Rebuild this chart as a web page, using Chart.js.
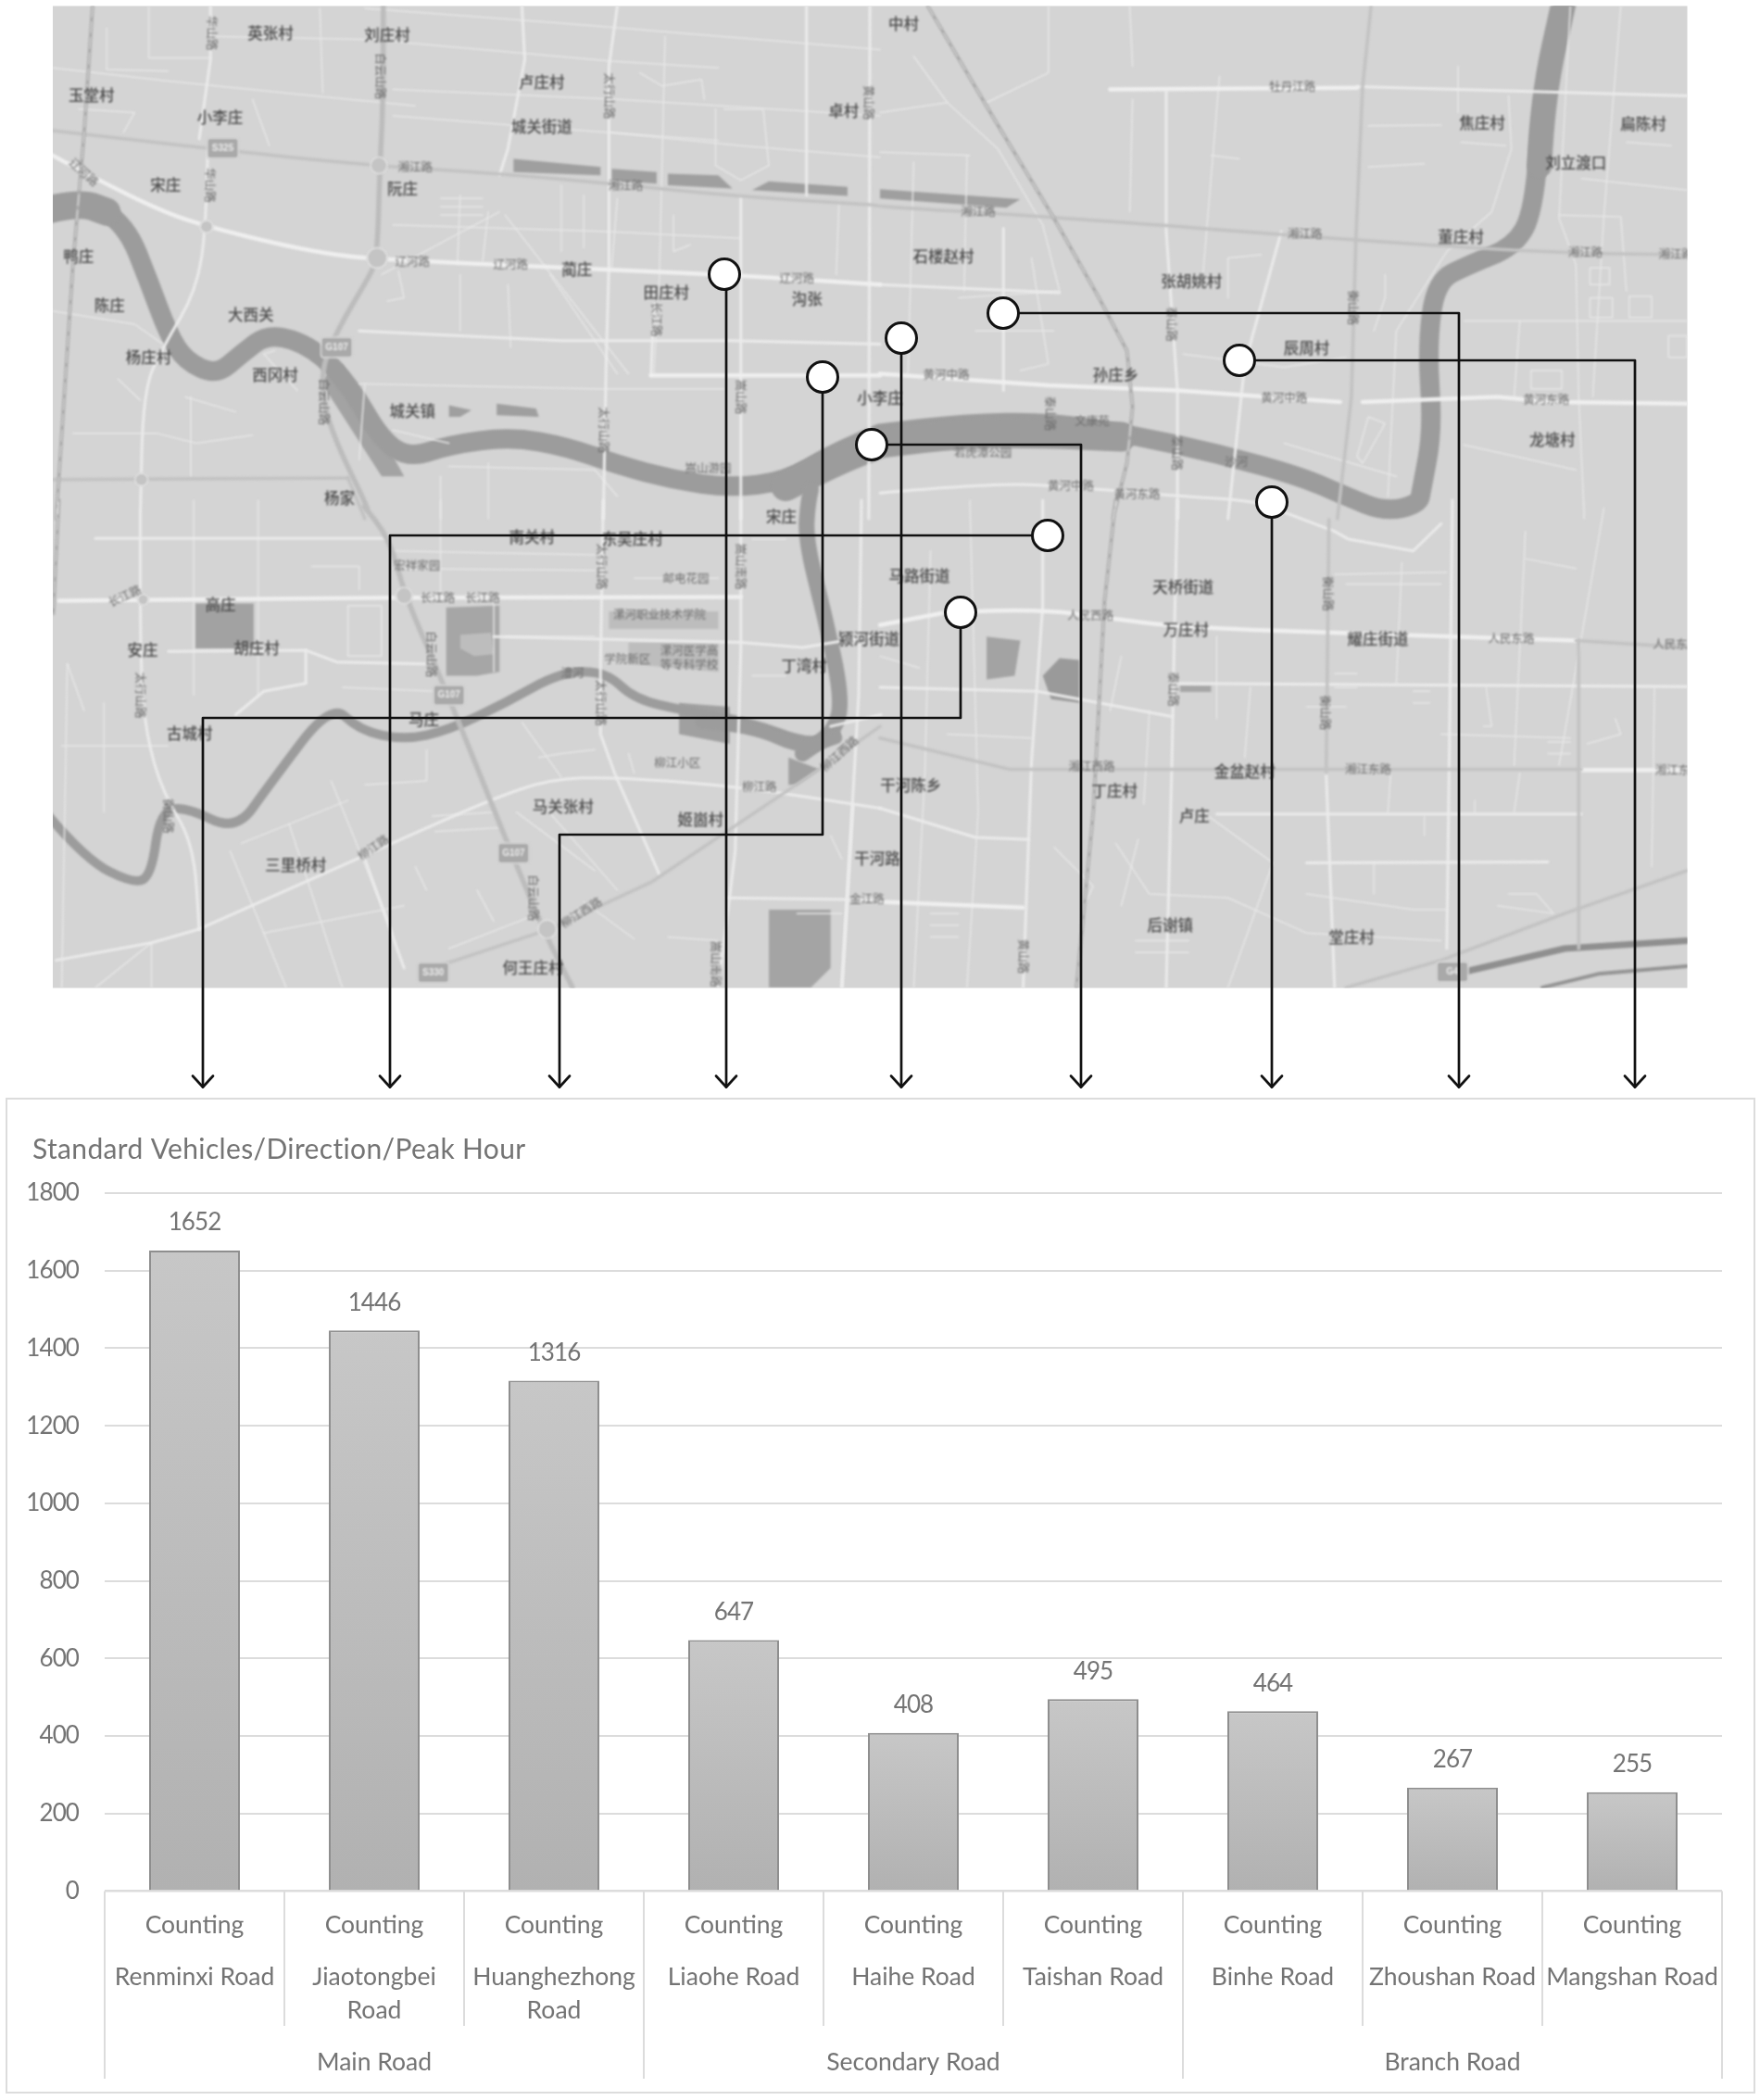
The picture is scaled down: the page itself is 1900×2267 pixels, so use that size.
<!DOCTYPE html>
<html><head><meta charset="utf-8">
<style>html,body{margin:0;padding:0;background:#fff}canvas{display:block}</style>
<script src="https://cdn.jsdelivr.net/npm/chart.js@4"></script>
</head><body><canvas id="c" width="1900" height="2267"></canvas>
<script>
const counting=['Counting','Counting','Counting','Counting','Counting','Counting','Counting','Counting','Counting'];
const roadNames=['Renminxi Road',['Jiaotongbei','Road'],['Huanghezhong','Road'],'Liaohe Road','Haihe Road','Taishan Road','Binhe Road','Zhoushan Road','Mangshan Road'];
const groupLabels=['','Main Road','','','Secondary Road','','','Branch Road',''];
const vehicles=[1652,1446,1316,647,408,495,464,267,255];
const titleText='Standard Vehicles/Direction/Peak Hour';

/* ---------- background map sketch, in the four crop frames ---------- */
const F={A:[0,0,2.8],B:[950,0,2.8],C:[0,540,2.376],D:[950,540,2.376]};
function q(n,a){const f=F[n],o=[];for(let i=0;i<a.length;i+=2)o.push([f[0]+a[i]/1.6505,f[1]+a[i+1]/f[2]]);return o;}
const S={thin:[1.5,'#e7e7e7'],med:[3,'#ebebeb'],thick:[4.5,'#efefef'],gray:[5.5,'#bcbcbc'],grayL:[3.5,'#c2c2c2']};
const riverPaths=[
 [21,[...q('A',[70,650,150,600,225,680,265,850,300,1010,330,1090,385,1135,430,1070,480,1005,560,1050,625,1170,680,1330,730,1385,800,1345,910,1320,1010,1350,1100,1405,1200,1450,1300,1475,1400,1455,1480,1375,1568,1310]),...q('B',[0,1310,150,1280,300,1275,450,1315,600,1370,750,1440,830,1500]),...q('D',[900,30,960,10]),...q('B',[965,1480,985,1300,975,1050,990,850,1050,800,1130,745,1165,640,1180,300,1222,-20])]],
 [32,[...q('A',[1400,1470,1480,1400,1568,1340]),...q('B',[0,1340,150,1310,300,1310,430,1320])]],
 [27,q('B',[1175,500,1180,300,1222,-20])],
 [30,q('A',[70,640,140,610,190,640])],
 [17,[...q('A',[1445,1480]),...q('C',[1440,0,1435,100,1470,300,1500,500,1490,590,1430,650])]],
 [10,q('C',[75,790,150,920,240,985,270,960,285,800,330,785,420,850,480,730,590,520,640,590,720,615,800,590,900,520,1000,440,1080,440,1130,510,1220,540,1340,570,1440,625,1490,600])],
 [13,q('C',[1250,570,1340,580,1430,640,1490,610])]
];
const patches=[
 ['#9f9f9f',q('A',[915,480,1070,505,1070,530,915,520])],['#9f9f9f',q('A',[1090,510,1170,520,1170,555,1090,545])],
 ['#9f9f9f',q('A',[1190,525,1280,530,1305,570,1190,560])],['#9f9f9f',q('A',[1340,575,1370,548,1510,565,1510,592])],
 ['#9f9f9f',q('B',[0,572,250,602,225,628,0,600])],
 ['#9f9f9f',q('A',[800,1225,840,1240,820,1260,800,1260])],['#9f9f9f',q('A',[885,1220,955,1235,960,1260,885,1255])],
 ['#a3a3a3',q('A',[610,1100,720,1440,680,1440,570,1150])],
 ['#a2a2a2',q('C',[348,265,452,265,452,380,348,380])],
 ['#a6a6a6',q('C',[795,275,890,270,890,440,850,450,795,450])],
 ['#bdbdbd',q('C',[820,345,875,340,880,395,845,400,820,380])],
 ['#a4a4a4',q('C',[1370,1050,1480,1050,1480,1200,1445,1250,1370,1250])],
 ['#9a9a9a',q('D',[290,450,320,405,355,410,355,520,305,510])],
 ['#a3a3a3',q('D',[190,350,250,360,240,450,190,460])],
 ['#a0a0a0',q('C',[1405,660,1460,690,1420,730,1405,730])],
 ['#a0a0a0',q('C',[1210,520,1300,530,1300,625,1210,600])],
 ['#bdbdbd',q('C',[1085,285,1280,285,1280,330,1085,330])],
 ['#bdbdbd',q('C',[1120,365,1280,365,1280,440,1120,420])],
 ['#a6a6a6',q('D',[535,475,590,475,590,492,535,492])]
];
const roads=[
 ['thin',q('A',[94,205,300,245,560,290,740,320])],['thin',q('A',[570,25,575,280])],['thin',q('A',[190,85,190,210,300,215])],['thin',q('A',[265,20,265,175,375,175])],
 ['thin',q('A',[380,110,660,120,1090,185,1280,205])],['thin',q('A',[650,25,1000,70,1568,150])],['thin',q('A',[700,270,1100,300,1568,350])],['thin',q('A',[700,350,1000,390,1280,425])],['thin',q('A',[1085,400,1320,440,1568,475])],
 ['thin',q('A',[1185,110,1175,830,1165,1130])],['thin',q('A',[1495,610,1490,830])],['thin',q('A',[1275,330,1275,500,1320,545,1370,500,1360,330,1290,330])],['thin',q('A',[1140,220,1180,260,1250,240,1255,300])],
 ['thin',q('A',[890,640,680,830])],['thin',q('A',[900,650,1120,1130])],['thin',q('A',[1000,560,1000,760])],['thin',q('A',[870,640,860,790])],['thin',q('A',[820,590,815,800])],['thin',q('A',[1040,590,1040,750])],['thin',q('A',[785,600,860,600])],['thin',q('A',[785,625,860,625])],['thin',q('A',[785,650,860,650])],
 ['thin',q('A',[700,680,1085,700,1320,720])],['thin',q('A',[1090,810,1100,600])],['thin',q('A',[640,1160,1060,1175,1290,1175])],['thin',q('A',[650,1160,640,1390])],['thin',q('A',[700,1300,800,1340])],['thin',q('A',[94,940,240,980,290,1040])],['thin',q('A',[130,1310,280,1310,350,1340,450,1315])],['thin',q('A',[210,1145,250,1210])],['thin',q('A',[330,1200,420,1245])],['thin',q('A',[340,1200,340,1440])],['thin',q('A',[870,1400,870,1568])],['thin',q('A',[785,1440,785,1568])],['thin',q('A',[800,1410,1060,1420,1100,1500])],['thin',q('A',[530,1180,470,1070,490,1060])],['thin',q('A',[140,330,240,340,220,400])],['thin',q('A',[450,300,480,440])],['thin',q('A',[710,820,720,900,690,910])],['thin',q('A',[820,830,820,1000])],['thin',q('A',[905,860,910,1050])],['thin',q('A',[980,830,1100,1130])],['thin',q('A',[1200,650,1200,760,1230,740])],
 ['thin',q('B',[60,170,120,310,210,450,290,680,320,880])],['thin',q('B',[190,310,300,220,300,18])],['thin',q('B',[0,340,120,310])],['thin',q('B',[0,460,160,470])],['thin',q('B',[60,490,50,1130])],['thin',q('B',[155,470,150,880])],['thin',q('B',[445,18,450,200])],['thin',q('B',[450,300,445,640])],
 ['thin',q('B',[605,230,575,840])],['thin',q('B',[590,470,640,480])],['thin',q('B',[1030,200,1030,340])],['thin',q('B',[1120,290,1125,450,1090,640,1010,760,920,1000,905,1500])],['thin',q('B',[1230,20,1210,660,1240,800,1245,1200,1255,1568])],['thin',q('B',[1320,18,1290,650,1270,1200])],['thin',q('B',[1040,970,1438,970])],['thin',q('B',[1140,970,1130,1200])],['thin',q('B',[1250,540,1438,575])],['thin',q('B',[1210,650,1320,655,1330,880])],['thin',q('B',[1040,1345,1240,1420])],['thin',q('B',[720,1340,920,1440])],['thin',q('B',[870,380,1000,378])],['thin',q('B',[870,505,970,495])],['thin',q('B',[1035,430,1115,440])],['thin',q('B',[1330,430,1410,440])],['thin',q('B',[1265,810,1300,810,1300,860,1265,860,1265,810])],['thin',q('B',[1265,900,1305,900,1305,960,1265,960,1265,900])],['thin',q('B',[1335,895,1375,895,1375,960,1335,960,1335,895])],['thin',q('B',[1160,1120,1215,1120,1215,1175,1160,1175,1160,1120])],['thin',q('B',[1405,1015,1438,1015,1438,1080,1405,1080,1405,1015])],['thin',q('B',[860,1400,900,1280,870,1260,850,1380,860,1400])],['thin',q('B',[620,900,620,780,680,770])],['thin',q('B',[900,830,900,900,880,1000])],['thin',q('B',[170,1000,310,1000])],['thin',q('B',[140,900,320,880])],['thin',q('B',[270,780,300,1100,250,1120])],['thin',q('B',[540,1070,720,1110,830,1080])],
 ['thin',q('C',[345,0,345,500])],['thin',q('C',[460,0,460,500])],['thin',q('C',[785,0,785,250])],['thin',q('C',[110,630,300,630])],['thin',q('C',[120,420,110,1250])],['thin',q('C',[185,520,185,800])],['thin',q('C',[430,880,620,770])],['thin',q('C',[515,830,610,1250])],['thin',q('C',[470,1110,720,1040])],['thin',q('C',[590,720,700,1110])],['thin',q('C',[410,900,510,1250])],['thin',q('C',[650,730,760,720,760,640])],['thin',q('C',[1120,650,1130,700])],['thin',q('C',[930,570,1000,710])],['thin',q('C',[610,480,780,490])],['thin',q('C',[620,270,680,270,680,400,620,400,620,270])],['thin',q('C',[555,170,640,170,640,230])],['thin',q('C',[880,250,880,440])],['thin',q('C',[900,350,1060,350])],['thin',q('C',[1130,200,1280,200])],['thin',q('C',[700,130,1060,140])],['thin',q('C',[700,175,1060,180])],['thin',q('C',[770,810,880,800])],['thin',q('C',[775,850,890,840])],['thin',q('C',[920,800,1060,950])],['thin',q('C',[960,770,1100,1000])],['thin',q('C',[800,1150,960,1060])],['thin',q('C',[850,1000,880,1080])],['thin',q('C',[740,940,760,1000])],['thin',q('C',[1040,1030,1130,1125])],['thin',q('C',[1190,1120,1280,1130])],['thin',q('C',[150,540,120,420])],['thin',q('C',[960,660,1000,650,1060,640])],['thin',q('C',[170,1250,270,1135,270,1250])],['thin',q('C',[1340,100,1400,100])],['thin',q('C',[1340,450,1400,450])],['thin',q('C',[1480,860,1500,920])],['thin',q('C',[1420,1060,1500,1060])],
 ['thin',q('D',[160,0,175,800,155,1250])],['thin',q('D',[90,130,80,700,60,1250])],['thin',q('D',[430,400,410,540])],['thin',q('D',[600,350,600,560])],['thin',q('D',[660,480,650,660])],['thin',q('D',[580,805,700,930,620,1250])],['thin',q('D',[480,540,470,780])],['thin',q('D',[420,880,480,1010,620,1020,760,1110,1000,1130])],['thin',q('D',[760,1010,950,1050,1010,1050])],['thin',q('D',[880,930,880,1010])],['thin',q('D',[1150,80,1130,680])],['thin',q('D',[1290,20,1210,680])],['thin',q('D',[1150,150,1240,175])],['thin',q('D',[1380,480,1375,940])],['thin',q('D',[810,190,1010,185])],['thin',q('D',[830,215,1000,215])],['thin',q('D',[930,160,920,470])],['thin',q('D',[1140,700,1130,800])],['thin',q('D',[910,700,905,800])],['thin',q('D',[1060,770,1060,800])],['thin',q('D',[970,810,970,860])],['thin',q('D',[1000,600,1230,610])],['thin',q('D',[1310,560,1320,600,1260,625])],['thin',q('D',[1080,480,1090,580,1075,580])],['thin',q('D',[1120,1010,1170,1010,1200,1060,1100,1040])],['thin',q('D',[120,600,270,610])],['thin',q('D',[0,400,70,430])],['thin',q('D',[310,890,380,990,360,1050])],['thin',q('D',[460,870,430,1040])],['thin',q('D',[90,1060,140,1060])],['thin',q('D',[90,1090,140,1090])],['thin',q('D',[90,1120,140,1120])],['thin',q('D',[455,1130,550,1130])],['thin',q('D',[455,1160,550,1160])],['thin',q('D',[810,445,850,445])],['thin',q('D',[810,480,850,480])],['thin',q('D',[760,530,830,530])],['thin',q('D',[950,490,980,490])],['thin',q('D',[950,520,980,520])],['thin',q('D',[1190,620,1230,620])],['thin',q('D',[1190,650,1230,650])],
 ['med',q('A',[375,18,375,180,355,420])],['med',q('A',[930,18,935,180,905,450,890,530])],['med',q('A',[1437,18,1437,590])],['med',q('A',[1320,595,1320,1568])],['med',q('A',[1550,18,1548,1568])],['med',q('A',[640,1000,1000,1030,1300,1030,1568,1040])],['med',q('A',[1165,920,1160,1135])],['med',q('A',[1100,18,1085,200,1085,800,1080,1100,1075,1568])],
 ['med',[...q('A',[370,450,368,680,350,880,290,1050,255,1180,250,1568]),...q('C',[250,0,250,420,260,600,290,750,345,880,355,1100])]],
 ['med',q('C',[1075,0,1070,420,1070,600,1095,700,1175,960])],['med',q('C',[1320,0,1320,380,1310,900,1280,1250])],['med',q('C',[1535,0,1530,500,1500,1250])],['med',q('C',[170,98,690,98])],['med',q('C',[300,388,545,385,600,415,760,420])],['med',q('C',[545,385,545,470,470,490,420,550])],['med',q('C',[880,350,1320,365,1430,378,1568,345])],['med',q('C',[1570,550,1480,580])],['med',q('C',[355,1100,700,880,870,770,980,715,1095,710,1320,735,1568,790])],['med',q('C',[100,1180,270,1135,355,1100])],['med',q('C',[650,920,720,1200])],['med',q('C',[1295,1020,1568,1025])],['med',q('C',[1520,780,1500,1250])],
 ['med',q('B',[510,275,510,700,530,1180,530,1568])],['med',q('B',[715,700,650,1100,620,1568])],['med',q('B',[220,690,220,1180])],['med',q('B',[0,860,320,885])],['med',q('B',[0,1490,200,1460,330,1470,530,1500,640,1510,700,1530])],
 ['med',q('D',[290,0,290,270,270,670,255,1250])],['med',q('D',[0,480,280,490,520,555])],['med',q('D',[530,470,1438,478])],['med',q('D',[530,0,525,310,520,680,510,1250])],['med',q('D',[795,700,810,1250])],['med',q('D',[1020,0,1010,1150])],['med',q('D',[0,790,170,865,265,870])],['med',q('D',[700,20,810,80,835,100,950,130,1000,60])],['med',q('D',[760,930,1190,928])],['med',q('D',[600,805,1250,805])],
 ['thick',q('A',[94,470,170,540,290,640,370,685,500,740,610,775,700,785,1000,810,1290,830,1568,860])],['thick',q('A',[1160,1135,1568,1135])],['thick',q('C',[105,258,700,250,1320,248])],
 ['thick',q('B',[410,270,850,265])],['med',q('B',[850,262,1438,290])],['thick',q('B',[0,1130,300,1165,530,1180,820,1215])],['thick',q('B',[860,1215,1100,1200,1200,1215,1438,1220])],
 ['thick',q('D',[0,320,110,290])],['thick',q('D',[170,285,280,278,420,305,530,325,800,340,1240,360])],['thick',q('D',[1250,692,1438,692])],['thick',q('D',[0,1030,255,1045])],
 ['gray',[...q('A',[683,18,683,300,677,500,672,780,660,830,600,1000,570,1130,585,1290,665,1568]),...q('C',[640,0,695,100,720,240,790,470,960,1080,1020,1250])]],
 ['grayL',[...q('A',[94,395,375,450,660,500,890,525,1085,555,1320,595,1568,620]),...q('B',[0,625,300,655,840,725,1200,765,1438,770])]],
 ['grayL',q('A',[94,1450,620,1445])],['grayL',q('A',[620,1445,650,1568])],
 ['grayL',q('B',[875,18,860,260,848,720,840,1200,815,1568])],['grayL',q('D',[800,50,795,700])],
 ['grayL',q('D',[0,610,230,690,1250,690])],['grayL',q('D',[1245,360,1245,1150])],['grayL',q('D',[1240,360,1438,378])],
 ['grayL',q('D',[830,1250,1000,1180,1220,1060,1438,950])],
 ['grayL',q('C',[770,1200,980,1100,1160,980,1460,690,1568,580])]
];
const rails=[
 [...q('A',[165,18,150,400,130,800,100,1568]),...q('C',[105,0,95,290])],
 [...q('B',[85,18,200,350,310,660,390,900,440,1060,450,1230,440,1400,415,1568]),...q('D',[420,0,400,260,380,800,350,1250])]
];
const trackPaths=[[7,'#8f8f8f',q('D',[1040,1210,1220,1150,1438,1130])],[4,'#939393',q('D',[1180,1250,1280,1215,1438,1195])]];
const hubs=[['A',675,500,9],['A',672,780,11],['A',252,1450,7],['A',368,685,7],['C',720,245,9],['C',975,1100,10],['C',255,255,6]];
const shields=[['A',397,448,'S325'],['A',600,1050,'G107'],['C',800,500,'G107'],['C',915,905,'G107'],['C',772,1212,'S330'],['D',1020,1210,'G4']];
const placeNames=[
 ['A','英张村',482,100],['A','刘庄村',690,105],['A','玉堂村',163,288],['A','小李庄',392,355],['A','卢庄村',965,248],['A','城关街道',965,383],['A','卓村',1503,335],['A','宋庄',295,558],['A','阮庄',717,570],['A','鸭庄',140,775],['A','陈庄',195,922],['A','大西关',447,950],['A','杨庄村',265,1080],['A','西冈村',490,1132],['A','城关镇',735,1243],['A','杨家',605,1505],['A','蔺庄',1028,815],['A','田庄村',1187,885],['A','沟张',1438,905],
 ['B','中村',42,72],['B','焦庄村',1073,372],['B','扁陈村',1360,375],['B','刘立渡口',1240,492],['B','董庄村',1035,715],['B','石楼赵村',113,775],['B','张胡姚村',555,850],['B','辰周村',760,1052],['B','孙庄乡',420,1132],['B','龙塘村',1198,1330],['B','小李庄',0,1203],
 ['C','宋庄',1392,42],['C','南关村',948,95],['C','东吴庄村',1127,98],['C','高庄',393,268],['C','安庄',254,385],['C','胡庄村',457,380],['C','丁湾村',1433,425],['C','马庄',755,562],['C','古城村',338,597],['C','马关张村',1003,785],['C','姬崮村',1248,820],['C','三里桥村',527,935],['C','何王庄村',950,1200],
 ['D','马路街道',70,195],['D','颍河街道',-20,355],['D','天桥街道',540,222],['D','万庄村',545,333],['D','耀庄街道',887,355],['D','金盆赵村',650,695],['D','丁庄村',418,745],['D','卢庄',560,810],['D','干河陈乡',55,730],['D','干河路',-5,918],['D','后谢镇',517,1090],['D','堂庄村',840,1120]
];
const roadNamesMap=[
 ['A','湘江路',740,505],['A','湘江路',1115,562],['A','辽河路',735,790],['A','辽河路',910,800],['A','辽河路',1420,840],['A','嵩山游园',1262,1415],
 ['B','牡丹江路',735,262],['B','湘江路',175,640],['B','湘江路',757,705],['B','湘江路',1257,762],['B','湘江路',1418,768],['B','黄河中路',118,1132],['B','黄河中路',720,1202],['B','黄河东路',1187,1207],['B','文康苑',378,1272],['B','若虎潭公园',183,1368],['B','沙河',635,1395],['B','黄河中路',340,1468],['B','黄河东路',458,1492],
 ['C','宏祥家园',743,167],['C','邮电花园',1222,200],['C','长江路',780,250],['C','长江路',860,250],['C','漯河职业技术学院',1175,292],['C','漯河医学高',1228,385],['C','等专科学校',1228,420],['C','学院新区',1118,408],['C','澧河',1020,442],['C','柳江小区',1207,672],['C','柳江路',1353,735],['C','金江路',1545,1022],
 ['D','人民西路',375,295],['D','人民东路',1125,355],['D','人民东',1408,370],['D','湘江西路',377,683],['D','湘江东路',870,690],['D','湘江东',1412,692]
];
const slantNames=[['A','辽河路',150,520,42],['C','长江路',222,245,-25],['C','柳江路',665,890,-35],['C','柳江西路',1035,1057,-32],['C','柳江西路',1495,650,-42]];
const verticalNames=[['A','白云山路',678,230],['A','白云山路',578,1215],['C','白云山路',768,395],['C','白云山路',950,1020],['A','太行山路',1085,290],['A','太行山路',1075,1300],['C','太行山路',250,500],['C','太行山路',1072,170],['C','太行山路',1070,520],['A','嵩山路',1320,1200],['C','嵩山南路',1320,170],['C','嵩山南路',1275,1190],['A','华山路',378,100],['A','华山路',375,560],['A','黄山路',1548,310],['B','泰山路',520,980],['B','泰山路',530,1370],['D','泰山路',522,485],['B','衡山路',843,930],['D','衡山路',798,240],['D','衡山路',793,545],['D','黄山路',255,1170],['C','衡山路',300,810],['A','长江路',1170,965],['B','泰山路',303,1250]];
const circles=[[782,296],[888,407],[973,365],[1083,338],[1338,389],[941,480],[1373,542],[1131,578],[1037,661]];
const connectors=[
 [[782,296],[784,296],[784,1173.5]],[[888,407],[888,901],[604,901],[604,1173.5]],[[973,365],[973,1173.5]],
 [[1083,338],[1575,338],[1575,1173.5]],[[1338,389],[1765,389],[1765,1173.5]],[[941,480],[1167,480],[1167,1173.5]],
 [[1373,542],[1373,1173.5]],[[1131,578],[421,578],[421,1173.5]],[[1037,661],[1037,775],[219,775],[219,1173.5]]
];

function line(c,pts){c.beginPath();pts.forEach((p,i)=>i?c.lineTo(p[0],p[1]):c.moveTo(p[0],p[1]));}
function curve(c,pts){c.beginPath();c.moveTo(pts[0][0],pts[0][1]);for(let i=1;i<pts.length-1;i++){c.quadraticCurveTo(pts[i][0],pts[i][1],(pts[i][0]+pts[i+1][0])/2,(pts[i][1]+pts[i+1][1])/2);}const e=pts[pts.length-1];c.lineTo(e[0],e[1]);}
function txt(c,t,x,y,font,col,rot){c.save();c.translate(x,y);if(rot)c.rotate(rot*Math.PI/180);c.font=font;c.fillStyle=col;c.textAlign='center';c.textBaseline='middle';c.fillText(t,0,0);c.restore();}
function drawMap(c){
 c.save();c.lineJoin='round';c.lineCap='round';
 c.beginPath();c.rect(57,6.5,1764.5,1060);c.clip();
 c.filter='blur(0.9px)';
 c.fillStyle='#d4d4d4';c.fillRect(50,0,1780,1075);
 patches.forEach(p=>{c.fillStyle=p[0];line(c,p[1]);c.closePath();c.fill();});
 c.strokeStyle='#9c9c9c';riverPaths.forEach(r=>{c.lineWidth=r[0];curve(c,r[1]);c.stroke();});
 trackPaths.forEach(r=>{c.lineWidth=r[0];c.strokeStyle=r[1];line(c,r[2]);c.stroke();});
 ['thin','med','thick','grayL','gray'].forEach(k=>roads.filter(r=>r[0]===k).forEach(r=>{c.lineWidth=S[k][0];c.strokeStyle=S[k][1];(r[1].length>5&&k!=='thin'?curve:line)(c,r[1]);c.stroke();}));
 rails.forEach(p=>{c.setLineDash([]);c.lineWidth=3.5;c.strokeStyle='#a9a9a9';line(c,p);c.stroke();c.setLineDash([12,5]);c.lineWidth=1.4;c.strokeStyle='#d6d6d6';line(c,p);c.stroke();c.setLineDash([]);});
 hubs.forEach(h=>{const f=q(h[0],[h[1],h[2]])[0];c.fillStyle='#c4c4c4';c.strokeStyle='#e4e4e4';c.lineWidth=1.5;c.beginPath();c.arc(f[0],f[1],h[3],0,7);c.fill();c.stroke();});
 shields.forEach(s=>{const f=q(s[0],[s[1],s[2]])[0];c.fillStyle='#a9a9a9';c.strokeStyle='#dedede';c.lineWidth=1.5;c.beginPath();c.roundRect(f[0]-17,f[1]-11,34,22,3);c.fill();c.stroke();txt(c,s[3],f[0],f[1],'bold 10px "Liberation Sans"','#eeeeee');});
 placeNames.forEach(l=>{const f=q(l[0],[l[2],l[3]])[0];txt(c,l[1],f[0],f[1],'500 16.5px "Noto Sans CJK SC"','#4c4c4c');});
 roadNamesMap.forEach(l=>{const f=q(l[0],[l[2],l[3]])[0];txt(c,l[1],f[0],f[1],'12.5px "Noto Sans CJK SC"','#6e6e6e');});
 slantNames.forEach(l=>{const f=q(l[0],[l[2],l[3]])[0];txt(c,l[1],f[0],f[1],'12.5px "Noto Sans CJK SC"','#6e6e6e',l[4]);});
 verticalNames.forEach(l=>{const f=q(l[0],[l[2],l[3]])[0];txt(c,l[1],f[0],f[1],'12.5px "Noto Sans CJK SC"','#6a6a6a',90);});
 c.filter='none';c.restore();
}
function drawConnectors(c){
 c.save();c.lineCap='round';c.lineJoin='round';c.strokeStyle='#111';c.lineWidth=2.7;
 connectors.forEach(p=>{line(c,p);c.stroke();const e=p[p.length-1];
  c.beginPath();c.moveTo(e[0]-11,e[1]-12);c.lineTo(e[0],e[1]);c.lineTo(e[0]+11,e[1]-12);c.stroke();});
 c.lineWidth=3;c.fillStyle='#fff';
 circles.forEach(p=>{c.beginPath();c.arc(p[0],p[1],16.5,0,Math.PI*2);c.fill();c.stroke();});
 c.restore();
}
const INK='#747474',GRID='#dcdcdc',NUM_SP='-0.9px',TITLE_SP='0.35px';
const scene={id:'scene',
 beforeDraw(ch){const c=ch.ctx;c.save();c.fillStyle='#fff';c.fillRect(0,0,1900,2267);drawMap(c);drawConnectors(c);
  c.strokeStyle='#dcdcdc';c.lineWidth=2;c.strokeRect(7,1186,1887,1073);c.restore();
  const t=ch.titleBlock;
  if(t&&!t.__w){t.__w=1;const d=t.draw;t.draw=function(){c.save();c.translate(35,0);c.letterSpacing=TITLE_SP;d.call(t);c.restore();};}
  const y=ch.scales.y;
  if(y&&!y.__w){y.__w=1;const d=y.drawLabels;y.drawLabels=function(a){c.save();c.letterSpacing=NUM_SP;d.call(y,a);c.restore();};}
 },
 afterDraw(ch){const c=ch.ctx,s=ch.scales.x,w=(s.right-s.left)/vehicles.length;
  c.save();c.strokeStyle=GRID;c.lineWidth=2;
  for(let i=0;i<=vehicles.length;i++){const X=s.left+i*w,end=i%3===0?2244:2187;c.beginPath();c.moveTo(X,ch.chartArea.bottom);c.lineTo(X,end);c.stroke();}
  c.beginPath();c.moveTo(s.left,ch.chartArea.bottom);c.lineTo(s.right,ch.chartArea.bottom);c.stroke();
  c.restore();
  const m=ch.getDatasetMeta(0);c.save();c.font='26px Lato';c.letterSpacing=NUM_SP;c.fillStyle=INK;c.textAlign='center';c.textBaseline='middle';
  m.data.forEach((b,i)=>c.fillText(String(vehicles[i]),b.x,b.y-30));c.restore();}
};
function fixed(v,prop){return s=>{s[prop]=v;};}
const tickFont={family:'Lato',size:26.5,lineHeight:36/26.5};
new Chart(document.getElementById('c'),{
 type:'bar',
 data:{labels:counting,datasets:[{data:vehicles,xAxisID:'x',barPercentage:.505,categoryPercentage:1,borderWidth:2,borderColor:'#8e8e8e',
  backgroundColor(ctx){const ch=ctx.chart,y=ch.scales.y;if(!y||!ch.chartArea||!ctx.parsed)return '#bbb';
   const g=ch.ctx.createLinearGradient(0,y.getPixelForValue(ctx.parsed.y),0,y.getPixelForValue(0));g.addColorStop(0,'#c7c7c7');g.addColorStop(1,'#b1b1b1');return g;}}]},
 plugins:[scene],
 options:{responsive:false,animation:false,devicePixelRatio:1,
  layout:{padding:{left:0,right:41,top:1225,bottom:0}},
  plugins:{legend:{display:false},tooltip:{enabled:false},
   title:{display:true,text:titleText,align:'start',color:INK,font:{family:'Lato',size:30,weight:'normal',lineHeight:33.6/30},padding:{top:0,bottom:29.4}}},
  scales:{
   y:{min:0,max:1800,ticks:{stepSize:200,color:INK,font:{family:'Lato',size:26},padding:28,callback:v=>String(v)},border:{display:false},grid:{color:GRID,lineWidth:2,drawTicks:false},afterFit:fixed(113,'width')},
   x:{type:'category',labels:counting,weight:1,offset:true,position:'bottom',border:{display:false},grid:{display:false},ticks:{color:INK,font:tickFont,padding:11.2,autoSkip:false,maxRotation:0,minRotation:0},afterFit:fixed(56.2,'height')},
   xRoad:{type:'category',axis:'x',labels:roadNames,weight:2,offset:true,position:'bottom',border:{display:false},grid:{display:false},ticks:{color:INK,font:tickFont,padding:11,autoSkip:false,maxRotation:0,minRotation:0},afterFit:fixed(95,'height')},
   xGroup:{type:'category',axis:'x',labels:groupLabels,weight:3,offset:true,position:'bottom',border:{display:false},grid:{display:false},ticks:{color:INK,font:tickFont,padding:8,autoSkip:false,maxRotation:0,minRotation:0},afterFit:fixed(74.4,'height')}
  }}
});
</script></body></html>
